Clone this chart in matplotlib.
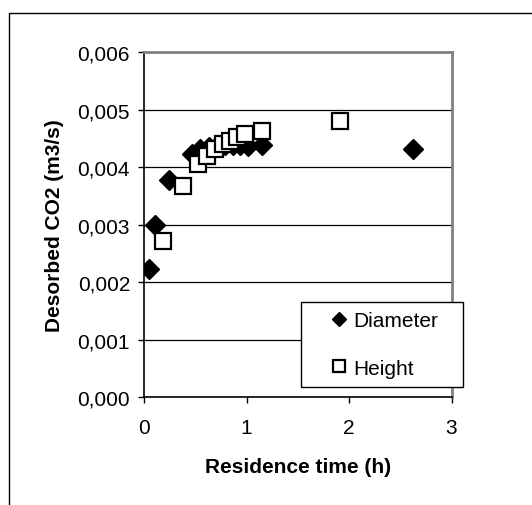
import matplotlib
matplotlib.use("Agg")
import matplotlib.pyplot as plt
from matplotlib.ticker import FuncFormatter
from matplotlib.patches import Rectangle

# --- Daten ---
diameter_x = [0.05, 0.11, 0.24, 0.47, 0.55, 0.63, 0.71, 0.79, 0.87, 0.94, 1.01, 1.15, 2.62]
diameter_y = [0.00223, 0.00300, 0.00378, 0.00423, 0.00432, 0.00435, 0.00437,
              0.00438, 0.00439, 0.00439, 0.00437, 0.00439, 0.00431]

height_x = [0.19, 0.38, 0.53, 0.61, 0.69, 0.77, 0.84, 0.91, 0.985, 1.15, 1.91]
height_y = [0.00271, 0.00368, 0.00406, 0.00420, 0.00432, 0.00440, 0.00446,
            0.00452, 0.00458, 0.00464, 0.00481]

x_ticks = [0, 1, 2, 3]
y_ticks = [0.000, 0.001, 0.002, 0.003, 0.004, 0.005, 0.006]

plt.rcParams['font.family'] = ['Liberation Sans', 'DejaVu Sans']

W, H = 532, 506
fig = plt.figure(figsize=(W / 100, H / 100), dpi=100)
fig.patch.set_facecolor("white")

# Rahmen um das ganze Diagramm (laeuft rechts/unten aus dem Bild)
fig.add_artist(Rectangle((9 / W, -0.1), 1.2, 1.1 - 14 / H,
                         transform=fig.transFigure, fill=False,
                         edgecolor="black", linewidth=1.0))

ax = fig.add_axes([144 / W, (H - 398.3) / H, (451.5 - 144) / W, (398.3 - 53.3) / H])

# Gitterlinien
for yv in y_ticks[1:-1]:
    ax.axhline(yv, color="black", linewidth=0.9, zorder=1)

ax.plot(diameter_x, diameter_y, linestyle="none", marker="D", markersize=10,
        color="black", markerfacecolor="black", label="Diameter", zorder=3)
ax.plot(height_x, height_y, linestyle="none", marker="s", markersize=11,
        color="black", markerfacecolor="white", markeredgewidth=1.6,
        label="Height", zorder=4)

ax.set_xlim(0, 3)
ax.set_ylim(0, 0.006)
ax.set_xticks(x_ticks)
ax.set_yticks(y_ticks)
ax.yaxis.set_major_formatter(FuncFormatter(lambda v, p: f"{v:.3f}".replace(".", ",")))

for side in ["top", "right"]:
    ax.spines[side].set_color("#808080")
    ax.spines[side].set_linewidth(2)
for side in ["left", "bottom"]:
    ax.spines[side].set_color("black")
    ax.spines[side].set_linewidth(1.2)

ax.tick_params(axis="both", direction="out", length=4, width=1, labelsize=15,
               colors="black")
ax.tick_params(axis="x", pad=11)
ax.tick_params(axis="y", pad=6)

ax.set_xlabel("Residence time (h)", fontsize=15, fontweight="bold", labelpad=14)
ax.set_ylabel("Desorbed CO2 (m3/s)", fontsize=15, fontweight="bold", labelpad=10)

# Legendenkasten (ragt ueber den rechten Rand des Plotbereichs)
box_l, box_r, box_t, box_b = 300.7, 463.3, 303.3, 388.3
fig.add_artist(Rectangle((box_l / W, 1 - box_b / H), (box_r - box_l) / W, (box_b - box_t) / H,
                         transform=fig.transFigure, facecolor="white",
                         edgecolor="black", linewidth=1.0, zorder=5))

leg = fig.legend(loc="center left", bbox_to_anchor=(330.5 / W, 1 - 345.5 / H),
                 fontsize=15, frameon=False, borderpad=0, borderaxespad=0,
                 labelspacing=1.35, handlelength=0.8, handletextpad=0.3,
                 markerscale=0.75)
leg.set_zorder(6)

fig.savefig("out.png", dpi=100)
